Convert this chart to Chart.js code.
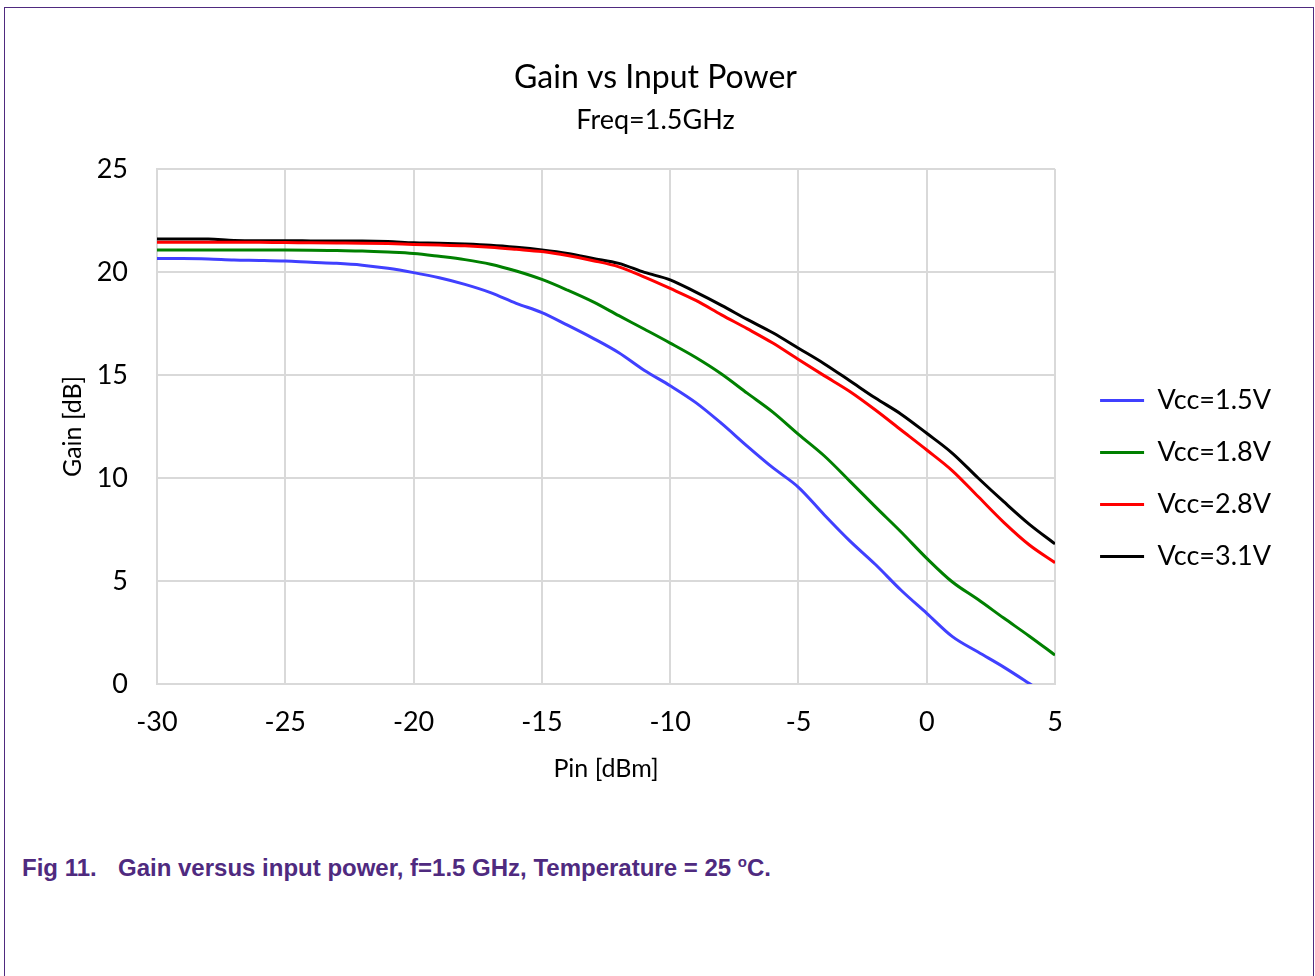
<!DOCTYPE html>
<html>
<head>
<meta charset="utf-8">
<script src="https://cdn.jsdelivr.net/npm/chart.js@4.4.1/dist/chart.umd.min.js"></script>
<style>
    html, body { margin: 0; padding: 0; background: #fff; }
    body { width: 1315px; height: 976px; position: relative; overflow: hidden; }
    #frame {
        position: absolute; left: 4px; top: 7px; width: 1310px; height: 1000px;
        border: 1.5px solid #4f2a7f; box-sizing: border-box;
    }
    #chartBox { position: absolute; left: 0; top: 0; width: 1315px; height: 800px; }
    #caption {
        position: absolute; left: 22px; top: 856px;
        font: bold 24px "Liberation Sans", Arial, sans-serif; line-height: 24px;
        color: #4f2a7f; white-space: nowrap;
    }
    #caption .num { display: inline-block; width: 96px; }
    #caption sup { font-size: 15px; vertical-align: 9px; line-height: 0; }
</style>
</head>
<body>
<div id="frame"></div>
<div id="chartBox"><canvas id="gainChart"></canvas></div>
<div id="caption"><span class="num">Fig 11.</span>Gain versus input power, f=1.5 GHz, Temperature = 25 <sup>o</sup>C.</div>

<script>
// Pin [dBm]
const pinDbm = [-30, -29, -28, -27, -26, -25, -24, -23, -22, -21, -20, -19, -18, -17, -16, -15, -14, -13,
    -12, -11, -10, -9, -8, -7, -6, -5, -4, -3, -2, -1, 0, 1, 2, 3, 4, 5];

// Gain [dB] per supply voltage
const gainVcc15 = [20.65, 20.65, 20.63, 20.58, 20.56, 20.53, 20.47, 20.42, 20.33, 20.18, 19.97, 19.72, 19.40, 19.00,
    18.48, 18.03, 17.42, 16.78, 16.08, 15.22, 14.48, 13.66, 12.65, 11.55, 10.50, 9.55, 8.22, 6.95, 5.80, 4.55,
    3.43, 2.30, 1.55, 0.82, 0.02, -0.80];
const gainVcc18 = [21.07, 21.07, 21.07, 21.07, 21.07, 21.07, 21.06, 21.04, 21.02, 20.97, 20.90, 20.76, 20.60, 20.38,
    20.05, 19.64, 19.12, 18.55, 17.88, 17.22, 16.55, 15.85, 15.05, 14.12, 13.20, 12.12, 11.08, 9.85, 8.60, 7.38,
    6.10, 4.95, 4.10, 3.20, 2.32, 1.40];
const gainVcc28 = [21.45, 21.45, 21.45, 21.45, 21.44, 21.43, 21.42, 21.41, 21.40, 21.38, 21.34, 21.31, 21.27, 21.20,
    21.10, 20.99, 20.80, 20.55, 20.25, 19.75, 19.20, 18.62, 17.92, 17.25, 16.55, 15.75, 14.97, 14.20, 13.30, 12.33,
    11.36, 10.35, 9.10, 7.85, 6.75, 5.89];
const gainVcc31 = [21.60, 21.60, 21.60, 21.53, 21.52, 21.52, 21.51, 21.50, 21.50, 21.48, 21.42, 21.40, 21.36, 21.30,
    21.20, 21.07, 20.90, 20.66, 20.42, 19.98, 19.62, 19.02, 18.38, 17.70, 17.05, 16.30, 15.55, 14.72, 13.88, 13.10,
    12.17, 11.20, 10.00, 8.85, 7.75, 6.80];

const seriesLabels = ['Vcc=1.5V', 'Vcc=1.8V', 'Vcc=2.8V', 'Vcc=3.1V'];

function toPoints(values) {
    return values.map((v, i) => ({ x: pinDbm[i], y: v }));
}

function makeDataset(label, values, color) {
    return {
        label: label,
        data: toPoints(values),
        borderColor: color,
        backgroundColor: color,
        borderWidth: 3,
        pointRadius: 0,
        cubicInterpolationMode: 'monotone',
        fill: false
    };
}

// the excel legend sits a bit right of and lower than the plot middle
const legendNudge = {
    id: 'legendNudge',
    afterLayout(chart) {
        const lg = chart.legend;
        lg.left += 20;
        lg.right += 20;
        lg.top += 52;
        lg.bottom += 52;
    }
};

Chart.defaults.font.family = 'Lato, "Open Sans", sans-serif';
Chart.defaults.color = '#000';

const ctx = document.getElementById('gainChart').getContext('2d');
new Chart(ctx, {
    type: 'line',
    data: {
        datasets: [
            makeDataset(seriesLabels[0], gainVcc15, '#4040ff'),
            makeDataset(seriesLabels[1], gainVcc18, '#008000'),
            makeDataset(seriesLabels[2], gainVcc28, '#ff0000'),
            makeDataset(seriesLabels[3], gainVcc31, '#000000')
        ]
    },
    options: {
        responsive: true,
        maintainAspectRatio: false,
        animation: false,
        layout: { padding: { top: 0, left: 50, right: 54, bottom: 10 } },
        plugins: {
            title: {
                display: true,
                text: 'Gain vs Input Power',
                font: { size: 32, weight: 'normal' },
                padding: { top: 58, bottom: 0 }
            },
            subtitle: {
                display: true,
                text: 'Freq=1.5GHz',
                font: { size: 27 },
                color: '#000',
                padding: { top: 7.4, bottom: 32.8 }
            },
            legend: {
                position: 'right',
                fullSize: false,
                labels: {
                    usePointStyle: true,
                    pointStyle: 'line',
                    pointStyleWidth: 44,
                    padding: 25,
                    font: { size: 27 }
                }
            },
            tooltip: { enabled: false }
        },
        scales: {
            x: {
                type: 'linear',
                min: -30,
                max: 5,
                ticks: { stepSize: 5, padding: 22, font: { size: 27 } },
                grid: { color: '#d9d9d9', lineWidth: 2, drawTicks: false },
                border: { color: '#d9d9d9', width: 2 },
                title: { display: true, text: 'Pin [dBm]', font: { size: 25 }, padding: { top: 0, bottom: 6 } },
                afterFit(scale) { scale.height = 106; }
            },
            y: {
                min: 0,
                max: 25,
                ticks: { stepSize: 5, padding: 29, font: { size: 27 } },
                grid: { color: '#d9d9d9', lineWidth: 2, drawTicks: false },
                border: { color: '#d9d9d9', width: 2 },
                title: { display: true, text: 'Gain [dB]', font: { size: 25 }, padding: { top: 8, bottom: 0 } },
                afterFit(scale) { scale.width = 107; }
            }
        }
    },
    plugins: [legendNudge]
});
</script>
</body>
</html>
